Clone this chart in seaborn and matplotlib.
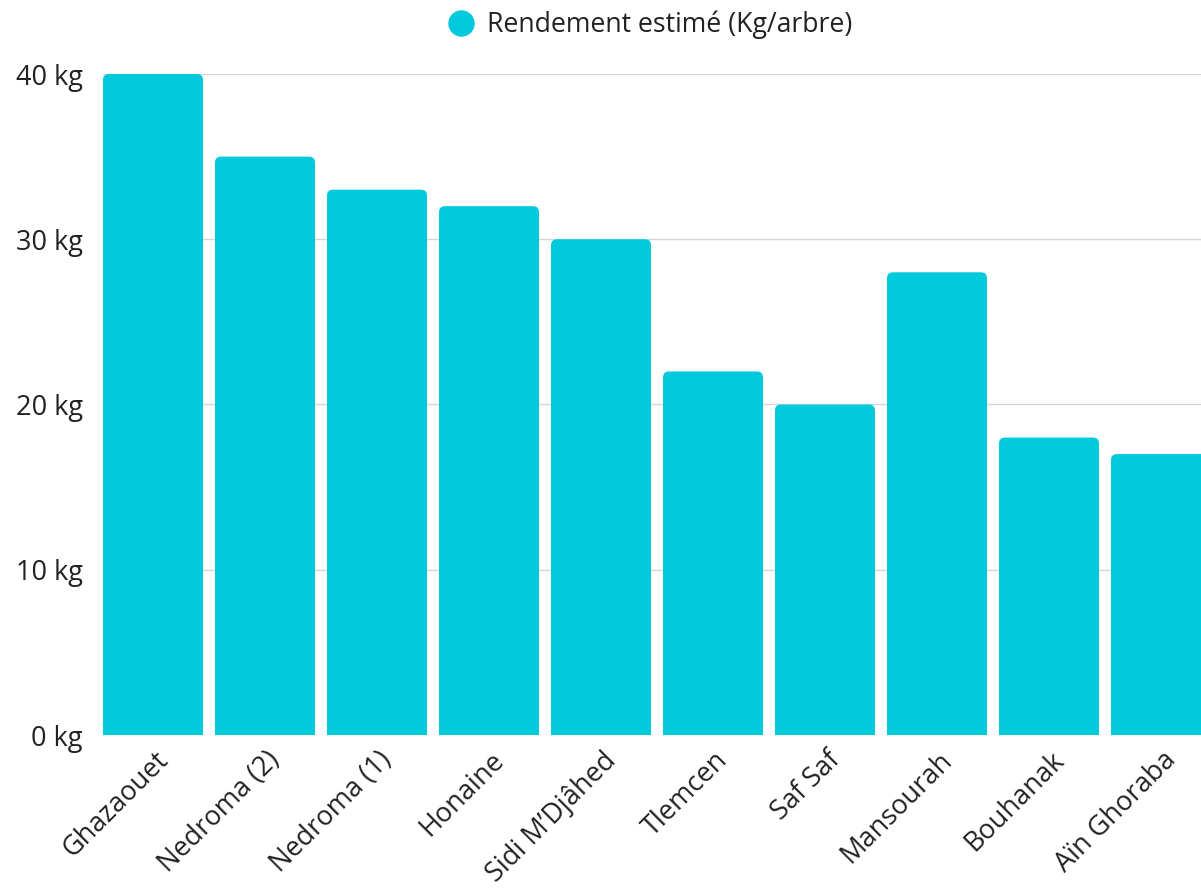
import matplotlib
matplotlib.use("Agg")
import matplotlib.pyplot as plt
import seaborn as sns
import pandas as pd
from matplotlib.patches import FancyBboxPatch
from matplotlib.lines import Line2D
import matplotlib.transforms as mtransforms

categories = ["Ghazaouet", "Nedroma (2)", "Nedroma (1)", "Honaine", "Sidi M’Djâhed",
              "Tlemcen", "Saf Saf", "Mansourah", "Bouhanak", "Aïn Ghoraba"]
values = [40, 35, 33, 32, 30, 22, 20, 28, 18, 17]
yticks = [0, 10, 20, 30, 40]
series_name = "Rendement estimé (Kg/arbre)"
color = "#00CADB"
text_color = "#222222"

sns.set_theme(style="white")
plt.rcParams['font.family'] = ['Open Sans', 'DejaVu Sans']

df = pd.DataFrame({"cat": categories, "val": values})

fig = plt.figure(figsize=(12.01, 8.88), dpi=100)
W, H = 1201, 888
ax = fig.add_axes([103 / W, 1 - 735 / H, (1211 - 103) / W, (735 - 74) / H])

width = 100 / 112
sns.barplot(data=df, x="cat", y="val", color=color, width=width, ax=ax, zorder=3,
            saturation=1)

ax.set_xlim(-width / 2, len(categories) - 1 + width / 2)
ax.set_ylim(0, 40)

# rounded top corners
px_x = 112.0  # px per x unit
px_y = (735 - 74) / 40.0  # px per y unit
r_px = 6
aspect = px_x / px_y
for p in list(ax.patches):
    x0, w, h = p.get_x(), p.get_width(), p.get_height()
    p.set_visible(False)
    fb = FancyBboxPatch((x0, -2), w, h + 2,
                        boxstyle=f"round,pad=0,rounding_size={r_px / px_x}",
                        mutation_aspect=aspect, facecolor=color, edgecolor="none",
                        zorder=3, clip_on=True)
    ax.add_patch(fb)

ax.set_yticks(yticks)
ax.set_yticklabels([f"{v} kg" for v in yticks], fontsize=19.5, color=text_color)
ax.yaxis.grid(True, color="#d6d6d6", linewidth=1, zorder=0)
ax.set_axisbelow(True)
for s in ax.spines.values():
    s.set_visible(False)
ax.tick_params(axis="y", length=0, pad=14.5)
ax.tick_params(axis="x", length=0, pad=8)
ax.set_xlabel("")
ax.set_ylabel("")

ax.set_xticks(range(len(categories)))
ax.set_xticklabels(categories, rotation=45, ha="right", rotation_mode="anchor",
                   fontsize=19.5, color=text_color)
offset = mtransforms.ScaledTranslation(1 / 100, 0, fig.dpi_scale_trans)
for lab in ax.get_xticklabels():
    lab.set_transform(lab.get_transform() + offset)

handle = Line2D([], [], marker="o", linestyle="none", markersize=19,
                markerfacecolor=color, markeredgecolor="none")
fig.legend([handle], [series_name], loc="center", bbox_to_anchor=(650 / W, 1 - 25 / H),
           frameon=False, fontsize=19.2, handlelength=1.0, handletextpad=0.5,
           labelcolor=text_color)

fig.savefig("out.png", dpi=100)
